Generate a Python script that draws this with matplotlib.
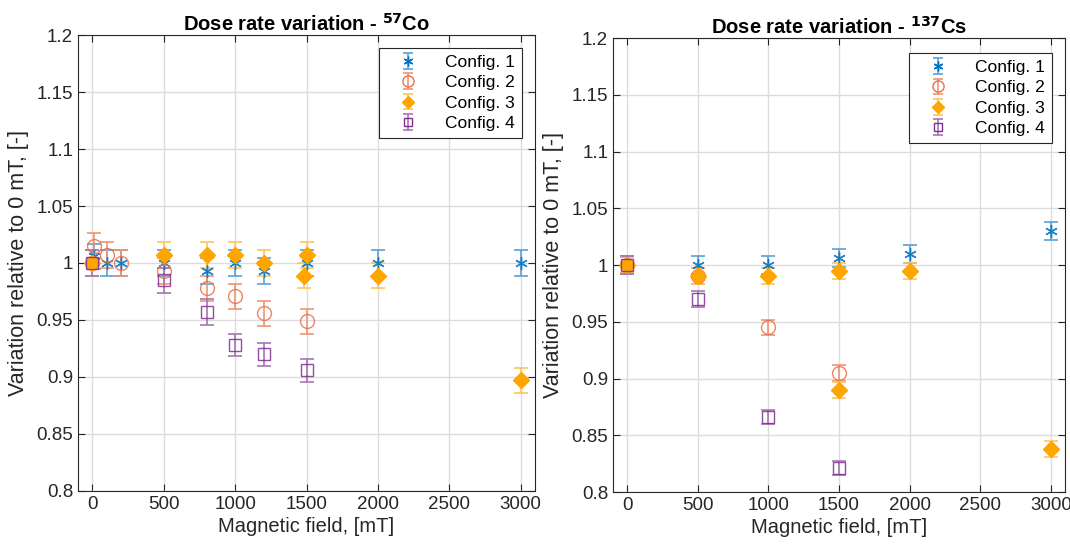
import numpy as np
import matplotlib
matplotlib.use("Agg")
import matplotlib.pyplot as plt
from matplotlib.container import ErrorbarContainer
from matplotlib.legend_handler import HandlerErrorbar

plt.rcParams['font.family'] = ['Liberation Sans', 'DejaVu Sans']

# Co-57 measurements
co_x1 = [0, 10, 100, 200, 500, 800, 1000, 1200, 1500, 2000, 3000]
co_y1 = [1.0, 1.006, 1.0, 1.0, 1.0, 0.993, 1.0, 0.993, 1.0, 1.0, 1.0]
co_e1 = [0.011] * 11
co_x2 = [0, 10, 100, 200, 500, 800, 1000, 1200, 1500]
co_y2 = [1.0, 1.015, 1.007, 1.0, 0.993, 0.978, 0.971, 0.956, 0.949]
co_e2 = [0.011] * 9
co_x3 = [0, 500, 800, 1000, 1200, 1480, 1500, 2000, 3000]
co_y3 = [1.0, 1.007, 1.007, 1.007, 1.0, 0.989, 1.007, 0.989, 0.897]
co_e3 = [0.011] * 9
co_x4 = [0, 500, 800, 1000, 1200, 1500]
co_y4 = [1.0, 0.985, 0.957, 0.928, 0.920, 0.906]
co_e4 = [0.011, 0.011, 0.011, 0.010, 0.010, 0.010]

# Cs-137 measurements
cs_x1 = [0, 500, 1000, 1500, 2000, 3000]
cs_y1 = [1.0, 1.0, 1.0, 1.006, 1.010, 1.030]
cs_e1 = [0.008] * 6
cs_x2 = [0, 500, 1000, 1500]
cs_y2 = [1.0, 0.990, 0.945, 0.905]
cs_e2 = [0.007] * 4
cs_x3 = [0, 500, 1000, 1500, 1500, 2000, 3000]
cs_y3 = [1.0, 0.990, 0.990, 0.995, 0.890, 0.995, 0.838]
cs_e3 = [0.007] * 7
cs_x4 = [0, 500, 1000, 1500]
cs_y4 = [1.0, 0.970, 0.866, 0.821]
cs_e4 = [0.008, 0.007, 0.006, 0.006]

labels = ['Config. 1', 'Config. 2', 'Config. 3', 'Config. 4']
colors = ['#0072BD', '#E8704A', '#FFA500', '#7E2F8E']
ecolors = ['#5AA0D8', '#F0936F', '#FFC45A', '#A874B4']
markers = [(6, 2, 0), 'o', 'D', 's']
mfill = ['none', 'none', '#FFA500', 'none']
msize = [9, 10, 8, 8]

fig = plt.figure(figsize=(10.7, 5.47), dpi=100)
ax1 = fig.add_axes([0.0729, 0.1024, 0.4271, 0.8336])
ax2 = fig.add_axes([0.5729, 0.1005, 0.4224, 0.8300])


def draw(ax, series, title, anchor):
    for i, (x, y, e) in enumerate(series):
        ax.errorbar(x, y, yerr=e, fmt='none', ecolor=ecolors[i], elinewidth=1.2,
                    capsize=4.8, capthick=1.2, zorder=2)
        ax.plot(x, y, linestyle='none', marker=markers[i], markersize=msize[i],
                markeredgecolor=colors[i], markerfacecolor=mfill[i],
                markeredgewidth=1.0, alpha=0.85 if i != 2 else 1.0, zorder=3)
    # legend entries: one off-screen point each so the bar and caps show up
    handles = []
    for i in range(4):
        h = ax.errorbar([-1000], [1.0], yerr=[0.02], fmt=' ', marker=markers[i],
                        markersize=msize[i] - 2, color=colors[i], ecolor=ecolors[i],
                        markerfacecolor=mfill[i], markeredgecolor=colors[i],
                        capsize=3.5, elinewidth=1.2, capthick=1.2)
        handles.append(h)
    leg = ax.legend(handles, labels, loc='upper right', fontsize=12.5, fancybox=False,
                    framealpha=1, edgecolor='#262626', borderpad=0.4, labelspacing=0.3,
                    handlelength=2.5, handletextpad=0.9, borderaxespad=0,
                    bbox_to_anchor=anchor,
                    handler_map={ErrorbarContainer: HandlerErrorbar(yerr_size=0.45)})
    leg.get_frame().set_linewidth(0.8)
    ax.set_xlim(-100, 3100)
    ax.set_ylim(0.8, 1.2)
    ax.set_xticks(np.arange(0, 3001, 500))
    ax.set_yticks(np.arange(0.8, 1.2001, 0.05))
    ax.set_yticklabels(['0.8', '0.85', '0.9', '0.95', '1', '1.05', '1.1', '1.15', '1.2'])
    ax.grid(True, color='#DCDCDC', linewidth=1.0)
    ax.set_axisbelow(True)
    ax.tick_params(direction='in', top=True, right=True, labelsize=13.5,
                   colors='#262626', length=5, width=0.8)
    for s in ax.spines.values():
        s.set_color('#262626')
        s.set_linewidth(0.8)
    ax.set_xlabel('Magnetic field, [mT]', fontsize=14.5, color='#262626', labelpad=3)
    ax.set_ylabel('Variation relative to 0 mT, [-]', fontsize=15.5, color='#262626', labelpad=5)
    ax.set_title(title, fontsize=14.5, fontweight='bold', pad=3)


draw(ax1, [(co_x1, co_y1, co_e1), (co_x2, co_y2, co_e2),
           (co_x3, co_y3, co_e3), (co_x4, co_y4, co_e4)],
     r'Dose rate variation - $^{\mathbf{57}}$Co', (0.972, 0.972))
draw(ax2, [(cs_x1, cs_y1, cs_e1), (cs_x2, cs_y2, cs_e2),
           (cs_x3, cs_y3, cs_e3), (cs_x4, cs_y4, cs_e4)],
     r'Dose rate variation - $^{\mathbf{137}}$Cs', (0.971, 0.967))

fig.savefig('out.png', dpi=100)
